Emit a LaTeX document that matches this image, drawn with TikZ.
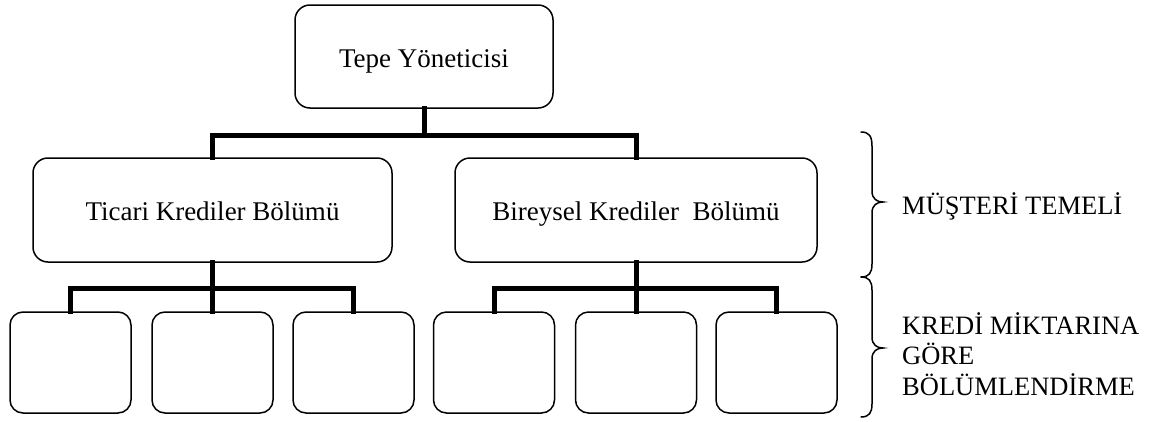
\documentclass[tikz,border=0pt]{standalone}
\usepackage{fontspec}
\setmainfont{Liberation Serif}
\begin{document}
\begin{tikzpicture}[x=1pt,y=-1pt,
  unit/.style={draw=black, line width=1.5pt, rounded corners=15pt, fill=white,
    inner sep=0pt, text height=24pt, text depth=3pt, font=\fontsize{27}{27}\selectfont},
  leaf/.style={unit, rounded corners=13pt, minimum width=121pt, minimum height=101pt},
  bar/.style={line width=5pt, line join=miter, line cap=rect},
  brace/.style={line width=1.5pt, line cap=round},
  label/.style={anchor=base west, align=left, inner sep=0pt, font=\fontsize{26.5}{30.5}\selectfont}]
\useasboundingbox (0,0) rectangle (1152,421);

% management levels
\node[unit, minimum width=258pt, minimum height=103pt] (top) at (424,56.5) {Tepe Yöneticisi};
\node[unit, minimum width=359pt, minimum height=104pt] (tic) at (212.5,210) {Ticari Krediler Bölümü};
\node[unit, minimum width=362pt, minimum height=104pt] (bir) at (636,210) {Bireysel Krediler\ \ Bölümü};

% empty sub-units
\node[leaf] (t1) at (70.5,362.5) {};
\node[leaf] (t2) at (212.5,362.5) {};
\node[leaf] (t3) at (353.5,362.5) {};
\node[leaf] (b1) at (494,362.5) {};
\node[leaf] (b2) at (636,362.5) {};
\node[leaf] (b3) at (776.5,362.5) {};

% connectors
\draw[bar] (top.south) -- ++(0,27) coordinate (j0);
\draw[bar] (tic.north) |- (j0) -| (bir.north);
\draw[bar] (tic.south) -- ++(0,26) coordinate (j1);
\draw[bar] (t1.north) |- (j1) -| (t3.north);
\draw[bar] (j1) -- (t2.north);
\draw[bar] (bir.south) -- ++(0,26) coordinate (j2);
\draw[bar] (b1.north) |- (j2) -| (b3.north);
\draw[bar] (j2) -- (b2.north);

% braces
\draw[brace] (861,132) .. controls (869,132) and (872,136) .. (872,146)
  -- (872,191) .. controls (872,199) and (877,202) .. (883,202)
  .. controls (877,202) and (872,205) .. (872,213)
  -- (872,264) .. controls (872,273) and (869,277) .. (861,277);
\draw[brace] (861,277) .. controls (869,277) and (872,281) .. (872,290)
  -- (872,337) .. controls (872,345) and (877,348) .. (883,348)
  .. controls (877,348) and (872,351) .. (872,359)
  -- (872,404) .. controls (872,413) and (869,417) .. (861,417);

% grouping labels (base anchor sits on the last line)
\node[label] (m) at (902,214) {MÜŞTERİ TEMELİ};
\node[label] (k) at (902,395) {KREDİ MİKTARINA\\GÖRE\\BÖLÜMLENDİRME};
\end{tikzpicture}
\end{document}
